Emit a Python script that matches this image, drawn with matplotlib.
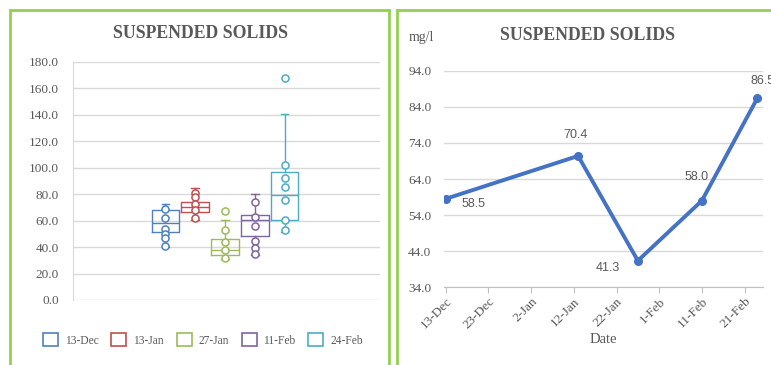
import matplotlib.pyplot as plt
import matplotlib.dates as mdates
from matplotlib.patches import Rectangle, Patch
import pandas as pd

plt.rcParams['font.family'] = ['Liberation Serif', 'DejaVu Serif']

# box plot data
series = ['13-Dec', '13-Jan', '27-Jan', '11-Feb', '24-Feb']
colors = ['#4f81bd', '#c0504d', '#9bbb59', '#8064a2', '#4bacc6']
q1 = [51.6, 66.5, 33.7, 48.4, 60.5]
med = [58.4, 70.3, 37.8, 60.5, 79.3]
q3 = [68.0, 74.3, 46.3, 64.0, 97.0]
whislo = [40.3, 60.5, 30.7, 34.0, 51.6]
whishi = [72.5, 84.4, 60.5, 80.0, 140.3]
points = [
    [68.5, 61.7, 54.0, 50.0, 47.0, 41.0],
    [80.6, 78.0, 72.5, 68.0, 61.7],
    [67.5, 52.9, 44.0, 38.0, 31.5],
    [74.0, 62.5, 56.0, 44.8, 39.0, 35.0],
    [168.0, 102.0, 92.0, 85.6, 76.0, 60.5, 53.0],
]

# line chart data
dates = pd.to_datetime(['2016-12-13', '2017-01-13', '2017-01-27', '2017-02-11', '2017-02-24'])
values = [58.5, 70.4, 41.3, 58.0, 86.5]
tick_dates = pd.date_range('2016-12-13', '2017-02-21', freq='10D')

fig = plt.figure(figsize=(7.71, 3.65), dpi=100)
grey = '#595959'
grid = '#d9d9d9'

# panel borders
for x0, w in [(10, 379), (397, 380)]:
    fig.patches.append(Rectangle((x0 / 771, -0.05), w / 771, 1 - 10 / 365 + 0.05,
                                 transform=fig.transFigure, fill=False,
                                 edgecolor='#92d050', linewidth=2))

# ---- left: box plot ----
ax1 = fig.add_axes([73 / 771, 1 - 300 / 365, 307 / 771, 238 / 365])
pos = list(range(1, len(series) + 1))
for i in range(len(series)):
    c = colors[i]
    s = dict(q1=q1[i], med=med[i], q3=q3[i], whislo=whislo[i],
             whishi=whishi[i], fliers=[])
    ax1.bxp([s], positions=[pos[i]], widths=0.93, showfliers=False,
            boxprops=dict(color=c, linewidth=1),
            medianprops=dict(color=c, linewidth=1),
            whiskerprops=dict(color=c, linewidth=1),
            capprops=dict(color=c, linewidth=1), capwidths=0.25)
    ax1.scatter([pos[i]] * len(points[i]), points[i], s=26, facecolors='white',
                edgecolors=c, linewidths=1.1, zorder=3)
ax1.set_xlim(-2.1, 8.2)
ax1.set_ylim(0, 180)
ax1.set_yticks(range(0, 181, 20))
ax1.set_yticklabels([f'{v:.1f}' for v in range(0, 181, 20)])
ax1.set_xticks([])
ax1.yaxis.grid(True, color=grid, linewidth=1)
ax1.set_axisbelow(True)
for sp in ['top', 'right', 'bottom']:
    ax1.spines[sp].set_visible(False)
ax1.spines['left'].set_color(grid)
ax1.tick_params(axis='y', length=0, labelsize=9.5, labelcolor=grey, pad=10)
fig.text(200 / 771, 1 - 34 / 365, 'SUSPENDED SOLIDS', ha='center', va='center',
         fontsize=12.8, fontweight='bold', color=grey)
handles = [Patch(facecolor='white', edgecolor=c, linewidth=1.2) for c in colors]
fig.legend(handles, series, loc='center', bbox_to_anchor=(203 / 771, 1 - 340 / 365),
           ncol=5, frameon=False, fontsize=8.3, labelcolor=grey,
           handlelength=1.3, handleheight=1.3, columnspacing=1.1, handletextpad=0.6)

# ---- right: line chart ----
ax2 = fig.add_axes([444 / 771, 1 - 287 / 365, 319 / 771, 216 / 365])
ax2.plot(dates, values, color='#4472c4', linewidth=2.8, marker='o', markersize=5.5)
ax2.set_xlim(dates[0] - pd.Timedelta(days=0.4), dates[0] + pd.Timedelta(days=74.3))
ax2.set_ylim(34, 94)
ax2.set_yticks(range(34, 95, 10))
ax2.set_yticklabels([f'{v:.1f}' for v in range(34, 95, 10)])
ax2.set_xticks(tick_dates)
ax2.xaxis.set_major_formatter(mdates.DateFormatter('%-d-%b'))
plt.setp(ax2.get_xticklabels(), rotation=45, ha='right', rotation_mode='anchor')
ax2.yaxis.grid(True, color=grid, linewidth=1)
ax2.set_axisbelow(True)
for sp in ['top', 'right', 'left']:
    ax2.spines[sp].set_visible(False)
ax2.spines['bottom'].set_color('#bfbfbf')
ax2.tick_params(axis='y', length=0, labelsize=9.5, labelcolor=grey, pad=9)
ax2.tick_params(axis='x', length=4, color='#bfbfbf', direction='out',
                labelsize=9.5, labelcolor=grey, pad=2)
ax2.set_xlabel('Date', fontsize=10.5, color=grey, labelpad=1)
offsets = [(20, -4), (-2, 15), (-22, -5), (-4, 17), (4, 12)]
for d, v, off in zip(dates, values, offsets):
    ax2.annotate(f'{v:.1f}', (d, v), xytext=off, textcoords='offset points',
                 ha='center', va='center', fontsize=9, color=grey,
                 family=['Liberation Sans', 'DejaVu Sans'], annotation_clip=False)
fig.text(421 / 771, 1 - 37 / 365, 'mg/l', ha='center', va='center',
         fontsize=10, color=grey)
fig.text(588 / 771, 1 - 35 / 365, 'SUSPENDED SOLIDS', ha='center', va='center',
         fontsize=12.8, fontweight='bold', color=grey)

fig.savefig('out.png', dpi=100)
